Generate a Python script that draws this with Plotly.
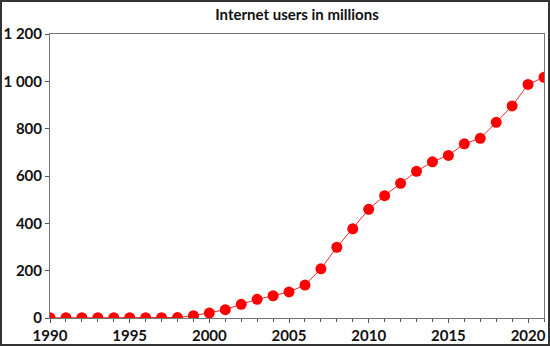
import plotly.graph_objects as go

years = list(range(1990, 2022))
users = [1, 1, 1, 1, 1, 1, 1, 1, 2, 10, 21, 35, 58, 79, 94, 110,
         139, 208, 299, 377, 459, 517, 569, 620, 660, 687, 736, 759,
         827, 896, 987, 1017]

y_tickvals = [0, 200, 400, 600, 800, 1000, 1200]
y_ticktext = ["0", "200", "400", "600", "800", "1 000", "1 200"]
x_tickvals = [1990, 1995, 2000, 2005, 2010, 2015, 2020]
x_ticktext = ["1990", "1995", "2000", "2005", "2010", "2015", "2020"]
title_text = "Internet users in millions"

W, H = 550, 346
ml, mr, mt, mb = 50, 6, 34, 28
pw, ph = W - ml - mr, H - mt - mb

fig = go.Figure()
fig.add_trace(go.Scatter(
    x=years, y=users, mode="lines+markers",
    line=dict(color="#e8262a", width=1),
    marker=dict(color="#ff0000", size=11, line=dict(width=0)),
    cliponaxis=True,
))

font = dict(family="Lato, 'Open Sans', sans-serif", size=15, color="#111111", weight="bold")

fig.update_layout(
    width=W, height=H,
    margin=dict(l=ml, r=mr, t=mt, b=mb, autoexpand=False),
    paper_bgcolor="white", plot_bgcolor="white",
    showlegend=False,
    font=font,
    title=dict(text=title_text, x=(ml + pw / 2) / W, xanchor="center",
               y=1 - 15 / H, yanchor="middle",
               font=dict(family="Lato, 'Open Sans', sans-serif", size=15, color="#111111", weight="bold")),
)
fig.update_xaxes(
    range=[1990, 2021], tickmode="array", tickvals=x_tickvals, ticktext=x_ticktext,
    showgrid=False, zeroline=False, showline=True, linecolor="#777777", linewidth=1,
    mirror=True, ticks="outside", ticklen=4, tickcolor="#555555",
    minor=dict(dtick=1, tick0=1990, ticks="outside", ticklen=3, tickcolor="#555555", showgrid=False),
    tickfont=font, ticklabelstandoff=0,
)
fig.update_yaxes(
    range=[0, 1200], tickmode="array", tickvals=y_tickvals, ticktext=y_ticktext,
    showgrid=False, zeroline=False, showline=True, linecolor="#777777", linewidth=1,
    mirror=True, ticks="outside", ticklen=4, tickcolor="#555555",
    tickfont=font,
)
fig.add_shape(
    type="rect", xref="paper", yref="paper",
    x0=-(ml - 1) / pw, x1=1 + (mr - 1) / pw,
    y0=-(mb - 1) / ph, y1=1 + (mt - 1) / ph,
    line=dict(color="#333333", width=2), fillcolor="rgba(0,0,0,0)",
)

fig.write_html("out.html", config={"displayModeBar": False},
               post_script="document.body.style.margin='0px';document.body.style.overflow='hidden';")
